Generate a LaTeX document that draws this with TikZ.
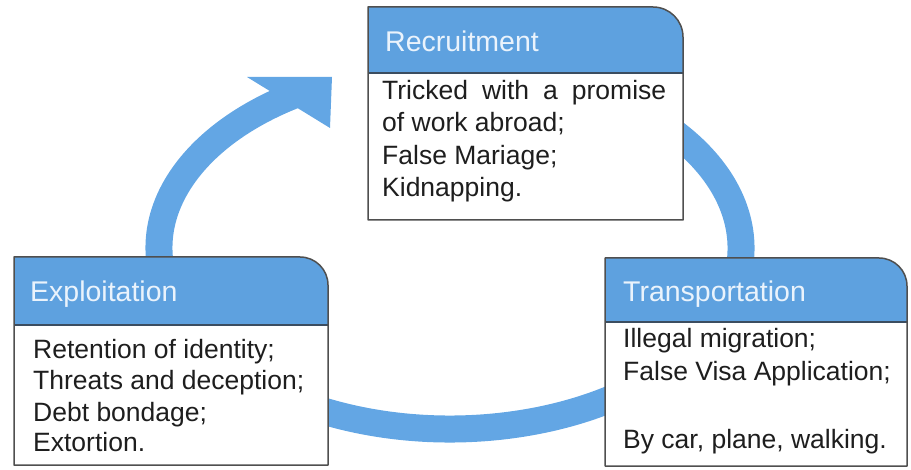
\documentclass[tikz,border=0pt]{standalone}
\usepackage{fontspec}
\setmainfont{Liberation Sans}
\definecolor{arrowblue}{HTML}{63A6E4}
\definecolor{headblue}{HTML}{5EA1DF}
\definecolor{boxgray}{HTML}{4F4F4F}
\definecolor{headline}{HTML}{3B4D60}
\definecolor{titlewhite}{HTML}{EAF3FC}
\definecolor{bodyblack}{HTML}{1E1E1E}

% One stage of the cycle: white card with a blue title band and one rounded corner.
% #1 left, #2 top, #3 right, #4 bottom, #5 bottom of the title band, #6 corner radius
% (the y axis points down, so the top-right quarter runs from 270 to 360 degrees)
\newcommand{\stagebox}[6]{%
  \fill[white] (#1,#4) -- (#1,#2) -- (#3-#6,#2) arc[start angle=270,end angle=360,radius=#6] -- (#3,#4) -- cycle;
  \fill[headfill] (#1,#5) -- (#1,#2) -- (#3-#6,#2) arc[start angle=270,end angle=360,radius=#6] -- (#3,#5) -- cycle;
  \draw[bandline] (#1,#5) -- (#3,#5);
  \draw[boxline] (#1,#4) -- (#1,#2) -- (#3-#6,#2) arc[start angle=270,end angle=360,radius=#6] -- (#3,#4) -- cycle;
}

\begin{document}
\begin{tikzpicture}[x=1pt,y=-1pt,
  cyclearrow/.style={draw=arrowblue, line width=27pt},
  headfill/.style={fill=headblue},
  bandline/.style={draw=headline, line width=1.8pt},
  boxline/.style={draw=boxgray, line width=1.5pt, line join=round},
  titletext/.style={anchor=base west, inner sep=0pt, text=titlewhite, font=\fontsize{28.5}{32}\selectfont},
  bodytext/.style={anchor=base west, inner sep=0pt, text=bodyblack, font=\fontsize{26.5}{32}\selectfont}]

\useasboundingbox (0,0) rectangle (911,470);

% the cycle: an elliptic band running behind the three cards
\coordinate (cyc) at (450,248);
\draw[cyclearrow] ([shift={(300:291 and 181)}]cyc) arc[start angle=300, end angle=599, x radius=291, y radius=181];
\fill[arrowblue] (247,77) -- (332,77) -- (330,128) -- cycle;

% cards
\stagebox{368}{7}{683}{220}{73}{30}
\stagebox{14}{257}{328}{465}{325}{28}
\stagebox{605}{258}{907}{466}{322}{28}

% Recruitment
\node[titletext] (rec-title) at (385,52) {Recruitment};
\node[bodytext] (rec-1) at (382,100) {\makebox[284pt][s]{Tricked with a promise}};
\node[bodytext] (rec-2) at (382,132) {of work abroad;};
\node[bodytext] (rec-3) at (382,165) {False Mariage;};
\node[bodytext] (rec-4) at (382,197) {Kidnapping.};

% Exploitation
\node[titletext] (exp-title) at (30,302) {Exploitation};
\node[bodytext] (exp-1) at (33,359) {Retention of identity;};
\node[bodytext] (exp-2) at (33,390) {Threats and deception;};
\node[bodytext] (exp-3) at (33,421) {Debt bondage;};
\node[bodytext] (exp-4) at (33,452) {Extortion.};

% Transportation
\node[titletext] (tra-title) at (623,302) {Transportation};
\node[bodytext] (tra-1) at (623,348) {Illegal migration;};
\node[bodytext] (tra-2) at (623,381) {False Visa Application;};
\node[bodytext] (tra-3) at (623,449) {By car, plane, walking.};
\end{tikzpicture}
\end{document}
